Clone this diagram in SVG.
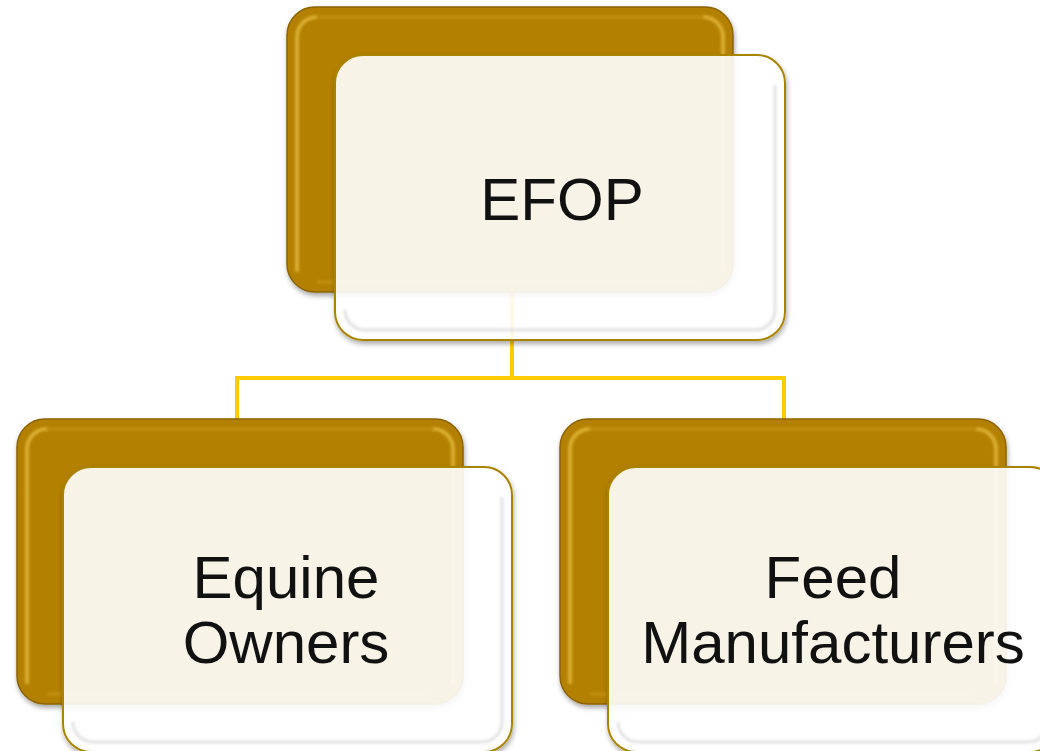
<svg xmlns="http://www.w3.org/2000/svg" width="1040" height="751" viewBox="0 0 1040 751">
<defs>
<style>
.back{fill:#B38000;stroke:#8C6400;stroke-width:1.5}
.backhl{fill:none;stroke:#FFD860;stroke-width:3.5;opacity:0.6}
.backtop{fill:none;stroke:#E8B840;stroke-width:2.5;opacity:0.35}
.front{fill:#FFFFFF;fill-opacity:0.9;stroke:#A88400;stroke-width:2}
.fronthl{fill:none;stroke:#CFCFCF;stroke-width:2.5;opacity:0.75}
.conn{fill:none;stroke:#FFCC00;stroke-width:4}
.lbl{font-family:"Liberation Sans",Arial,sans-serif;font-size:60px;fill:#111111;text-anchor:middle}
</style>
<filter id="sh" x="-10%" y="-10%" width="120%" height="125%">
<feDropShadow dx="1" dy="3" stdDeviation="2.5" flood-color="#000" flood-opacity="0.35"/>
</filter>
<filter id="shout" x="-10%" y="-10%" width="120%" height="125%">
<feGaussianBlur in="SourceAlpha" stdDeviation="2.5" result="b"/>
<feOffset in="b" dx="1" dy="3" result="o"/>
<feFlood flood-color="#000" flood-opacity="0.35"/>
<feComposite in2="o" operator="in" result="s"/>
<feComposite in="s" in2="SourceAlpha" operator="out" result="so"/>
<feMerge><feMergeNode in="so"/><feMergeNode in="SourceGraphic"/></feMerge>
</filter>
<filter id="bl" x="-5%" y="-5%" width="110%" height="110%">
<feGaussianBlur stdDeviation="1.5"/>
</filter>
</defs>
<g id="connectors">
<path class="conn" d="M512,292 V378"/>
<path class="conn" d="M237,419 V378 H784 V419"/>
</g>
<g id="node-efop">
<rect class="back" x="287" y="7" width="446" height="285" rx="28" filter="url(#sh)"/>
<path class="backhl" d="M297,272 V37 A20,20 0 0 1 317,17 M703,17 A20,20 0 0 1 723,37 V272" filter="url(#bl)"/>
<path class="backtop" d="M317,17 H703 M317,282 H703" filter="url(#bl)"/>
<rect class="front" x="335" y="55" width="450" height="285" rx="28" filter="url(#shout)"/>
<path class="fronthl" d="M775,85 V310 A20,20 0 0 1 755,330 H365 A20,20 0 0 1 345,310" filter="url(#bl)"/>
<text class="lbl" x="562" y="220">EFOP</text>
</g>
<g id="node-equine-owners">
<rect class="back" x="17" y="419" width="446" height="285" rx="28" filter="url(#sh)"/>
<path class="backhl" d="M27,684 V449 A20,20 0 0 1 47,429 M433,429 A20,20 0 0 1 453,449 V684" filter="url(#bl)"/>
<path class="backtop" d="M47,429 H433 M47,694 H433" filter="url(#bl)"/>
<rect class="front" x="63" y="467" width="449" height="285" rx="28" filter="url(#shout)"/>
<path class="fronthl" d="M502,497 V722 A20,20 0 0 1 482,742 H93 A20,20 0 0 1 73,722" filter="url(#bl)"/>
<text class="lbl" x="286" y="598">Equine</text>
<text class="lbl" x="286" y="663">Owners</text>
</g>
<g id="node-feed-manufacturers">
<rect class="back" x="560" y="419" width="446" height="285" rx="28" filter="url(#sh)"/>
<path class="backhl" d="M570,684 V449 A20,20 0 0 1 590,429 M976,429 A20,20 0 0 1 996,449 V684" filter="url(#bl)"/>
<path class="backtop" d="M590,429 H976 M590,694 H976" filter="url(#bl)"/>
<rect class="front" x="608" y="467" width="450" height="285" rx="28" filter="url(#shout)"/>
<path class="fronthl" d="M1048,497 V722 A20,20 0 0 1 1028,742 H638 A20,20 0 0 1 618,722" filter="url(#bl)"/>
<text class="lbl" x="833" y="598">Feed</text>
<text class="lbl" x="833" y="663">Manufacturers</text>
</g>
</svg>
